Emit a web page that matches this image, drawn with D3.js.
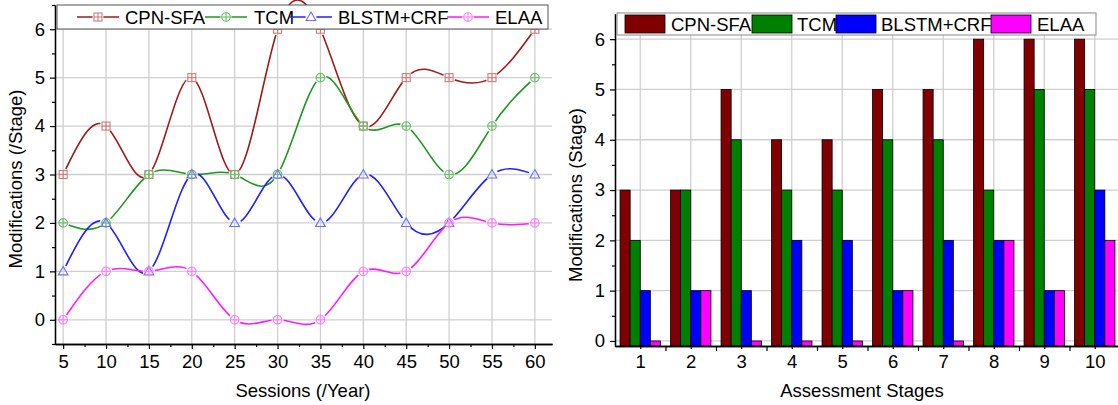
<!DOCTYPE html>
<html>
<head>
<meta charset="utf-8">
<script src="https://cdn.jsdelivr.net/npm/d3@7"></script>
<style>
  body { margin: 0; background: #fff; }
  svg { display: block; font-family: "Liberation Sans", Arial, sans-serif; }
  .tick text { font-size: 18.5px; fill: #000; }
</style>
</head>
<body>
<svg id="chart" width="1118" height="405"></svg>
<script>
// ---- data ----
var sessions = [5, 10, 15, 20, 25, 30, 35, 40, 45, 50, 55, 60];
var cpnLine  = [3, 4, 3, 5, 3, 6, 6, 4, 5, 5, 5, 6];
var tcmLine  = [2, 2, 3, 3, 3, 3, 5, 4, 4, 3, 4, 5];
var blstmLine = [1, 2, 1, 3, 2, 3, 2, 3, 2, 2, 3, 3];
var elaaLine = [0, 1, 1, 1, 0, 0, 0, 1, 1, 2, 2, 2];

var stages = [1, 2, 3, 4, 5, 6, 7, 8, 9, 10];
var cpnBar  = [3, 3, 5, 4, 4, 5, 5, 6, 6, 6];
var tcmBar  = [2, 3, 4, 3, 3, 4, 4, 3, 5, 5];
var blstmBar = [1, 1, 1, 2, 2, 1, 2, 2, 1, 3];
var elaaBar = [0, 1, 0, 0, 0, 1, 0, 2, 1, 2];

var seriesNames = ["CPN-SFA", "TCM", "BLSTM+CRF", "ELAA"];
var yTicks = [0, 1, 2, 3, 4, 5, 6];

var svg = d3.select("#chart");
var fmt = d3.format("d");
var FS = 18.5;

// ================= LEFT: line chart =================
var lineColors = ["#a01a1a", "#1f971f", "#1f1fff", "#ff1aff"];
var markColors = ["#d47a7a", "#6cc06c", "#6f6fff", "#ff80ff"];
var markTypes = ["square", "circle", "triangle", "circle"];
var lineData = [cpnLine, tcmLine, blstmLine, elaaLine];

var xL = d3.scaleLinear().domain([4.05, 62]).range([55, 552]);
var yL = d3.scaleLinear().domain([-0.5, 6.5]).range([344, 5]);

var gL = svg.append("g");

// grid
gL.append("g").selectAll("line.v").data(sessions).join("line")
  .attr("x1", d => xL(d)).attr("x2", d => xL(d))
  .attr("y1", yL(-0.5)).attr("y2", yL(6.5))
  .attr("stroke", "#cfcfcf").attr("stroke-width", 1.3);
gL.append("g").selectAll("line.h").data(yTicks).join("line")
  .attr("x1", xL.range()[0]).attr("x2", xL.range()[1])
  .attr("y1", d => yL(d)).attr("y2", d => yL(d))
  .attr("stroke", "#cfcfcf").attr("stroke-width", 1.3);

// axes
function styleAxis(g) {
  g.selectAll("path.domain").attr("stroke", "#000").attr("stroke-width", 1.3);
  g.selectAll(".tick line").attr("stroke", "#000").attr("stroke-width", 1.2);
  g.selectAll(".tick text").attr("font-family", null).attr("font-size", null);
}
var minorX = d3.range(7.5, 62, 5);
var minorY = [-0.5, 0.5, 1.5, 2.5, 3.5, 4.5, 5.5, 6.5];

gL.append("g").attr("transform", "translate(0,344)")
  .call(d3.axisBottom(xL).tickValues(minorX).tickSize(3).tickFormat("").tickSizeOuter(0))
  .call(styleAxis);
gL.append("g").attr("transform", "translate(0,344)")
  .call(d3.axisBottom(xL).tickValues(sessions).tickFormat(fmt).tickSize(5).tickPadding(6).tickSizeOuter(0))
  .call(styleAxis);
gL.append("g").attr("transform", "translate(55,0)")
  .call(d3.axisLeft(yL).tickValues(minorY).tickSize(3).tickFormat("").tickSizeOuter(0))
  .call(styleAxis);
gL.append("g").attr("transform", "translate(55,0)")
  .call(d3.axisLeft(yL).tickValues(yTicks).tickFormat(fmt).tickSize(5).tickPadding(5).tickSizeOuter(0))
  .call(styleAxis);

// markers
function drawMarker(g, type, color, cx, cy) {
  var m = g.append("g").attr("transform", "translate(" + cx + "," + cy + ")")
    .attr("fill", "none").attr("stroke", color).attr("stroke-width", 1.1);
  if (type === "square") {
    m.append("rect").attr("x", -4).attr("y", -4).attr("width", 8).attr("height", 8);
    m.append("line").attr("x1", -4).attr("x2", 4).attr("y1", 0).attr("y2", 0);
    m.append("line").attr("x1", 0).attr("x2", 0).attr("y1", -4).attr("y2", 4);
  } else if (type === "circle") {
    m.append("circle").attr("r", 4.3);
    m.append("line").attr("x1", -4.3).attr("x2", 4.3).attr("y1", 0).attr("y2", 0);
    m.append("line").attr("x1", 0).attr("x2", 0).attr("y1", -4.3).attr("y2", 4.3);
  } else {
    m.append("path").attr("d", "M0,-5L4.8,3.5L-4.8,3.5Z");
  }
}

var defs = svg.append("defs");
var line = d3.line().x(d => xL(d[0])).y(d => yL(d[1])).curve(d3.curveNatural);

lineData.forEach(function(vals, i) {
  var pts = sessions.map((s, j) => [s, vals[j]]);
  var mask = defs.append("mask").attr("id", "m" + i)
    .attr("maskUnits", "userSpaceOnUse").attr("x", 0).attr("y", 0).attr("width", 1118).attr("height", 405);
  mask.append("rect").attr("width", 1118).attr("height", 405).attr("fill", "#fff");
  mask.selectAll("circle").data(pts).join("circle")
    .attr("cx", d => xL(d[0])).attr("cy", d => yL(d[1])).attr("r", 6.2).attr("fill", "#000");
  gL.append("path").datum(pts)
    .attr("d", line).attr("fill", "none")
    .attr("stroke", lineColors[i]).attr("stroke-width", 1.6)
    .attr("mask", "url(#m" + i + ")");
  pts.forEach(p => drawMarker(gL, markTypes[i], markColors[i], xL(p[0]), yL(p[1])));
});

// legend left
var legL = gL.append("g");
legL.append("rect").attr("x", 57).attr("y", 5).attr("width", 491).attr("height", 24)
  .attr("fill", "#fff").attr("stroke", "#555").attr("stroke-width", 1);
var legLx = [77, 205, 290, 447];
var legTx = [125, 254, 338, 495];
seriesNames.forEach(function(name, i) {
  legL.append("line").attr("x1", legLx[i]).attr("x2", legLx[i] + 42)
    .attr("y1", 17).attr("y2", 17).attr("stroke", lineColors[i]).attr("stroke-width", 1.6);
  legL.append("circle").attr("cx", legLx[i] + 21).attr("cy", 17).attr("r", 5.5).attr("fill", "#fff");
  drawMarker(legL, markTypes[i], markColors[i], legLx[i] + 21, 17);
  legL.append("text").attr("x", legTx[i]).attr("y", 23.5).attr("font-size", FS).text(name);
});

// titles
svg.append("text").attr("x", 303).attr("y", 397).attr("text-anchor", "middle")
  .attr("font-size", FS).text("Sessions (/Year)");
svg.append("text").attr("transform", "translate(22,179) rotate(-90)").attr("text-anchor", "middle")
  .attr("font-size", FS).text("Modifications (/Stage)");

// ================= RIGHT: bar chart =================
var barColors = ["#800000", "#008000", "#0000ff", "#ff00ff"];
var barData = [cpnBar, tcmBar, blstmBar, elaaBar];

var xR = d3.scaleLinear().domain([0.5, 10.5]).range([615, 1120]);
var yR = d3.scaleLinear().domain([-0.1, 6.5]).range([346, 14]);
var step = xR(2) - xR(1);
var inner = d3.scaleBand().domain(seriesNames).range([-0.4 * step, 0.4 * step]);

var gR = svg.append("g");

gR.append("g").selectAll("line").data(stages).join("line")
  .attr("x1", d => xR(d)).attr("x2", d => xR(d))
  .attr("y1", yR(-0.1)).attr("y2", yR(6.5))
  .attr("stroke", "#cfcfcf").attr("stroke-width", 1.3);
gR.append("g").selectAll("line").data(yTicks).join("line")
  .attr("x1", 615).attr("x2", 1118)
  .attr("y1", d => yR(d)).attr("y2", d => yR(d))
  .attr("stroke", "#cfcfcf").attr("stroke-width", 1.3);

barData.forEach(function(vals, i) {
  gR.append("g").selectAll("rect").data(stages).join("rect")
    .attr("x", (d) => xR(d) + inner(seriesNames[i]))
    .attr("width", inner.bandwidth())
    .attr("y", (d, j) => yR(vals[j]))
    .attr("height", (d, j) => yR(-0.1) - yR(vals[j]))
    .attr("fill", barColors[i]).attr("stroke", "#000").attr("stroke-width", 0.8);
});

var boundaries = d3.range(1.5, 10.6, 1);
gR.append("g").attr("transform", "translate(0,346)")
  .call(d3.axisBottom(xR).tickValues(stages).tickSize(3).tickFormat("").tickSizeOuter(0))
  .call(styleAxis);
gR.append("g").attr("transform", "translate(0,346)")
  .call(d3.axisBottom(xR).tickValues(boundaries).tickSize(5).tickFormat("").tickSizeOuter(0))
  .call(styleAxis);
gR.append("g").attr("transform", "translate(0,346)")
  .call(d3.axisBottom(xR).tickValues(stages).tickFormat(fmt).tickSize(0).tickPadding(9).tickSizeOuter(0))
  .call(styleAxis)
  .call(g => g.select(".domain").remove());
gR.append("g").attr("transform", "translate(615,0)")
  .call(d3.axisLeft(yR).tickValues([0.5, 1.5, 2.5, 3.5, 4.5, 5.5]).tickSize(3).tickFormat("").tickSizeOuter(0))
  .call(styleAxis);
gR.append("g").attr("transform", "translate(615,0)")
  .call(d3.axisLeft(yR).tickValues(yTicks).tickFormat(fmt).tickSize(5).tickPadding(5).tickSizeOuter(0))
  .call(styleAxis);

// legend right
var legR = gR.append("g");
legR.append("rect").attr("x", 617).attr("y", 13).attr("width", 479).attr("height", 22)
  .attr("fill", "#fff").attr("stroke", "#888").attr("stroke-width", 1);
var swX = [625, 752, 836, 991];
var swT = [671, 797, 881, 1037];
seriesNames.forEach(function(name, i) {
  legR.append("rect").attr("x", swX[i]).attr("y", 15).attr("width", 40).attr("height", 18)
    .attr("fill", barColors[i]).attr("stroke", "#000").attr("stroke-width", 0.8);
  legR.append("text").attr("x", swT[i]).attr("y", 30.5).attr("font-size", FS).text(name);
});

svg.append("text").attr("x", 862).attr("y", 397).attr("text-anchor", "middle")
  .attr("font-size", FS).text("Assessment Stages");
svg.append("text").attr("transform", "translate(582,195) rotate(-90)").attr("text-anchor", "middle")
  .attr("font-size", FS).text("Modifications (Stage)");
</script>
</body>
</html>
